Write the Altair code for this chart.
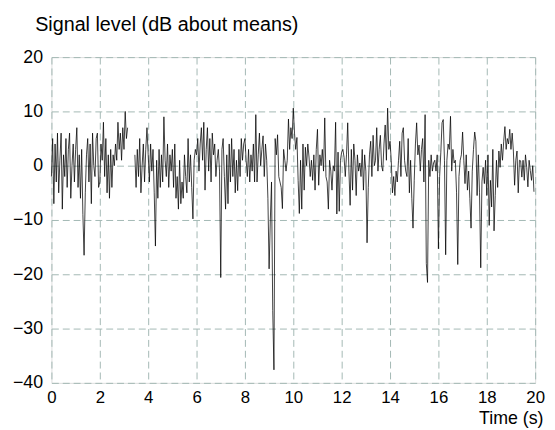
import altair as alt
import pandas as pd

# sample step (s)
step = 0.05

# signal level (dB about mean), 20 samples per second, None = dropout
sec_00_04 = [
    -2, 5, -7, 4, -3, 6, -5, 1, 6, -8, 2, -2, 5, -4, 3, 6, -6, 0, 4, -3,
    3, 7, -4, 2, -6, 3, -9, -16.5, -5, 2, 5, -3, 4, -7, 6, 0, -2, 5, 6, -4,
    -3, 4, 1, 8, -2, 5, -5, 2, -6, 3, -4, 2, 0, 4, 1, 8, 3, 6, 1, 7,
    3, 10, 5, 7, None, None, None, None, None, 2, -4, 3, -2, 5, -5, 0, 4, -3, 3, 7,
]
sec_04_08 = [
    2, -3, 4, -1, 3, -5, -14.8, 1, -6, 3, -4, 2, -3, 9, 1, -2, 4, -4, 2, -1,
    3, -4, 4, -6, -2, -8, 1, -7, -3, -6, 2, -2, -5, 5, -3, 2, -4, -9.8, 1, 3,
    2, 5, -1, 4, 7, 1, 8, -4.5, 3, 7, -1, 5, -3, 6, 2, 4, -2, 1, 3, -1,
    -20.6, 3, 5, -2, -8, 2, -7, 4, -3, 5, -2, 3, -5, 1, -4.6, 3, -2, 5, 1, 4,
]
sec_08_12 = [
    5, 1, -2, 3, -3, 2, -1, 4, -3, 9.4, -3, 2, 6, 0, 3, 5.5, -2, 4, 1, -6,
    -19, -10, -3, -26.7, -37.6, 5, 2, 5.7, -2, -3, -4, -7.9, 3, 1, -1, 1, 8.6, 3, 7, 5,
    10.6, 6, 3, 5.2, -2.7, -8.8, 1, -8, 4, -4.5, 3.4, 0, 4, 1.6, -2, 1, -2.7, 2, -4.5, 3,
    6.7, -3.6, 2, 0, 3, -1, 8.8, -2, -3, -8, 1, -1, -4.5, 0, -1, 8, -8.9, 2.5, -8.4, 1,
]
sec_12_16 = [
    2.5, 3, 1.5, -2, 2, 7.9, -1, -7.3, 3, -4.5, 4, 1, -5.5, 2, -1, 0.5, -2, 3, -4.5, 2,
    -1, -14.2, -4, 2, 4.5, -2, 5.6, 0, 1, 7, -1, 3, 5.6, 0, -1, 4, 7.5, 1, 10.6, 3,
    4.5, 1, -5, -2, -5.5, -1, -3, 1, 4.5, -2, 6, 7, 1, -1, -2, 5, -5, 1, -6, -11.5,
    -2.7, 4, 7.9, 2, 3.8, -1, 3, 5, -3, 9.4, -18, -21.5, 1, -2, 2, -1, 0.5, 1, -1, 2,
]
sec_16_20 = [
    -15.3, -2, 2.5, 7.9, 8.5, 1, -16.4, 1, 4, 3, 9.1, -1, 3, 0.5, 1, -5, -18.2, -2, 1, 2,
    6.2, 1, -3.3, 2, -4.5, -1, -6, -11.5, -1, 3, 6.2, 4.5, -5.5, 2, -5, -18.8, -3, -0.3, -3.3, 1,
    -5.5, 2, -11, -2.7, -7.6, 3, -12, -5.5, 1, -4, 2.7, -0.3, 4, 1, 4.5, 7.2, 3, 5, 4, 6.7,
    3, 6, 2.7, -3.6, 1, 2.7, -5, 1, 0.9, -2.1, 1, -2.7, 2, -0.3, -3.9, 1, -0.9, -2.7, 0, -4.8,
]

x_ticks = [0, 2, 4, 6, 8, 10, 12, 14, 16, 18, 20]
y_ticks = [-40, -30, -20, -10, 0, 10, 20]

signal = sec_00_04 + sec_04_08 + sec_08_12 + sec_12_16 + sec_16_20
rows = []
seg = 0
for i, v in enumerate(signal):
    if v is None:
        seg = 1
        continue
    rows.append({"t": round(i * step, 3), "db": v, "seg": seg})
df = pd.DataFrame(rows)

FONT = "Liberation Sans"

chart = (
    alt.Chart(df)
    .mark_line(color="black", strokeWidth=0.75)
    .encode(
        x=alt.X(
            "t:Q",
            scale=alt.Scale(domain=[0, 20], nice=False, zero=False),
            axis=alt.Axis(
                values=x_ticks,
                title="Time (s)",
                titleFont=FONT,
                titleFontSize=18,
                titleFontWeight="normal",
                titleColor="black",
                titleAnchor="end",
                titleAlign="right",
                titleBaseline="middle",
                titleX=498,
                titleY=36,
                labelFont=FONT,
                labelFontSize=17,
                labelColor="black",
                labelPadding=7,
                ticks=False,
                domain=False,
                gridColor="#a3b8b4",
                gridDash=[7, 4],
                gridWidth=1,
                labelFlush=False,
            ),
        ),
        y=alt.Y(
            "db:Q",
            scale=alt.Scale(domain=[-40, 20], nice=False, zero=False),
            axis=alt.Axis(
                values=y_ticks,
                title="Signal level (dB about means)",
                titleFont=FONT,
                titleFontSize=20,
                titleFontWeight="normal",
                titleColor="black",
                titleAngle=0,
                titleAlign="left",
                titleBaseline="middle",
                titleX=-17,
                titleY=-33,
                labelFont=FONT,
                labelFontSize=18,
                labelColor="black",
                labelPadding=9,
                ticks=False,
                domain=False,
                gridColor="#a3b8b4",
                gridDash=[7, 4],
                gridWidth=1,
            ),
        ),
        detail="seg:N",
    )
    .properties(
        width=490,
        height=330,
        autosize=alt.AutoSizeParams(type="none"),
        padding={"left": 44, "top": 47, "right": 12, "bottom": 45},
    )
    .configure_view(stroke="black", strokeWidth=1)
    .configure(background="white")
)

chart.save("out.html", embed_options={"renderer": "svg", "actions": False})
